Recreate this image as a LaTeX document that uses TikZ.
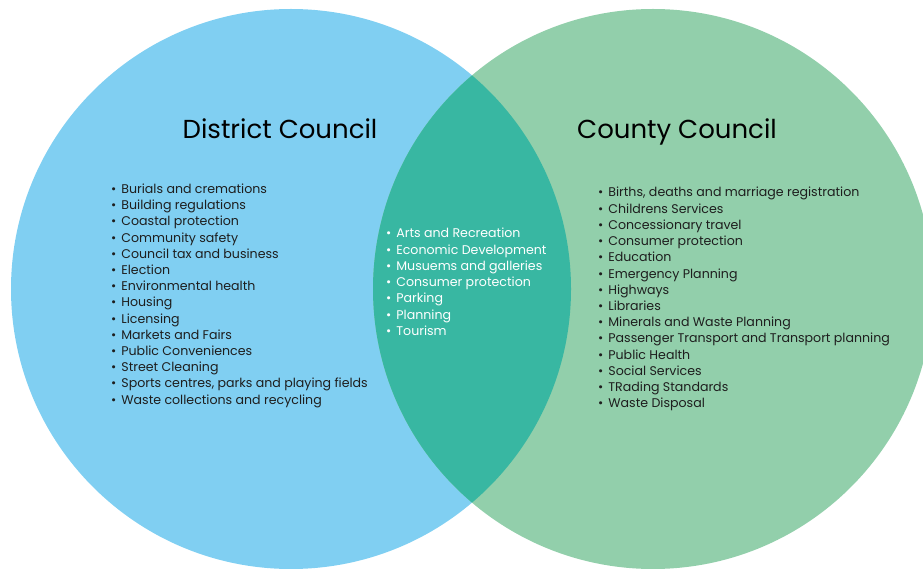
\documentclass[tikz,border=0pt]{standalone}
\usepackage{fontspec}
\setmainfont{Poppins}
\usetikzlibrary{positioning}
\definecolor{districtblue}{HTML}{80CFF2}
\definecolor{countygreen}{HTML}{92CFAB}
\definecolor{sharedteal}{HTML}{38B7A2}
\definecolor{listtext}{HTML}{1E1E1E}
\tikzstyle{council}=[circle,minimum size=560pt,inner sep=0pt]
\tikzstyle{title}=[anchor=base,font=\fontsize{26}{30}\selectfont,text=black]
\tikzstyle{item}=[anchor=base west,inner sep=0pt,font=\fontsize{12.6}{14}\selectfont,text=listtext]
\tikzstyle{shareditem}=[item,text=white]

\begin{document}
\begin{tikzpicture}[x=1pt,y=-1pt]
    \useasboundingbox (0,0) rectangle (923,569);
    % First the two councils
    \node[council,fill=districtblue] (district) at (291,289) {};
    \node[council,fill=countygreen] (county) at (653,289) {};
    % the part they share
    \begin{scope}
        \clip (district.center) circle (280pt);
        \fill[sharedteal] (county.center) circle (280pt);
    \end{scope}

    \node[title] (districttitle) at (280,139) {District Council};
    \node[title] (countytitle) at (677,139) {County Council};

    % Then the services of each
    \foreach \name [count=\i] in {Burials and cremations, Building regulations,
        Coastal protection, Community safety, Council tax and business, Election,
        Environmental health, Housing, Licensing, Markets and Fairs,
        Public Conveniences, Street Cleaning,
        {Sports centres, parks and playing fields}, Waste collections and recycling}
        \node[item] (district\i) at (111,193.5+16.2*\i-16.2) {\textbullet\hspace{5pt}\name};

    \foreach \name [count=\i] in {Arts and Recreation, Economic Development,
        Musuems and galleries, Consumer protection, Parking, Planning, Tourism}
        \node[shareditem] (shared\i) at (386,238+16.2*\i-16.2) {\textbullet\hspace{5pt}\name};

    \foreach \name [count=\i] in {{Births, deaths and marriage registration},
        Childrens Services, Concessionary travel, Consumer protection, Education,
        Emergency Planning, Highways, Libraries, Minerals and Waste Planning,
        Passenger Transport and Transport planning, Public Health,
        Social Services, TRading Standards, Waste Disposal}
        \node[item] (county\i) at (598,197+16.2*\i-16.2) {\textbullet\hspace{5pt}\name};
\end{tikzpicture}
\end{document}
